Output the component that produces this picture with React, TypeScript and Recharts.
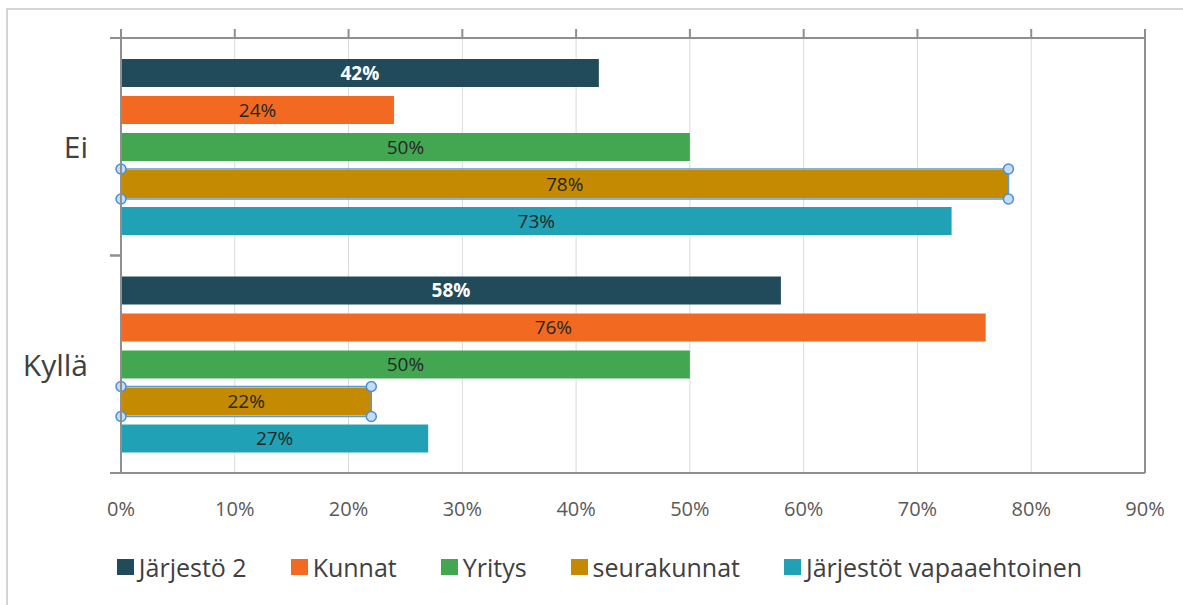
import React from "react";
import {
  BarChart,
  Bar,
  XAxis,
  YAxis,
  CartesianGrid,
  Legend,
  LabelList,
  ReferenceLine,
} from "recharts";

const categories = ["Ei", "Kyllä"];
const jarjesto2 = [42, 58];
const kunnat = [24, 76];
const yritys = [50, 50];
const seurakunnat = [78, 22];
const jarjestotVapaaehtoinen = [73, 27];
const xTicks = [0, 10, 20, 30, 40, 50, 60, 70, 80, 90];

const seriesNames = ["Järjestö 2", "Kunnat", "Yritys", "seurakunnat", "Järjestöt vapaaehtoinen"];
const seriesKeys = ["j2", "kunnat", "yritys", "seura", "jv"];
const seriesColors = ["#214b5a", "#f26a22", "#43a752", "#c48a02", "#21a1b5"];
const seriesValues = [jarjesto2, kunnat, yritys, seurakunnat, jarjestotVapaaehtoinen];

const data = categories.map((cat, i) => {
  const row: Record<string, any> = { cat };
  seriesKeys.forEach((k, s) => {
    row[k] = seriesValues[s][i];
  });
  return row;
});

const W = 1183;
const H = 605;
const M_TOP = 37;
const TOP_AXIS_H = 1;
const M_BOTTOM = 92;
const X_AXIS_H = 40;
const PLOT_TOP = M_TOP + TOP_AXIS_H;
const PLOT_H = H - PLOT_TOP - M_BOTTOM - X_AXIS_H;
const BAND_HALF = PLOT_H / categories.length / 2;
const FONT = "'Open Sans', 'Noto Sans', sans-serif";
const AXIS_COLOR = "#8f8f8f";

const YTick = (props: any) => {
  const { x, y, payload } = props;
  return (
    <g>
      <text
        x={x}
        y={y}
        textAnchor="end"
        dominantBaseline="central"
        fontSize={30}
        fontFamily={FONT}
        fill="#404040"
      >
        {payload.value}
      </text>
      <line x1={x + 22} x2={x + 33} y1={y - BAND_HALF} y2={y - BAND_HALF} stroke={AXIS_COLOR} strokeWidth={2} />
      <line x1={x + 22} x2={x + 33} y1={y + BAND_HALF} y2={y + BAND_HALF} stroke={AXIS_COLOR} strokeWidth={2} />
    </g>
  );
};

const XTick = (props: any) => {
  const { x, y, payload } = props;
  return (
    <g>
      <line x1={x} x2={x} y1={PLOT_TOP - 9} y2={PLOT_TOP} stroke={AXIS_COLOR} strokeWidth={2} />
      <text
        x={x}
        y={y}
        dy="0.71em"
        textAnchor="middle"
        fontSize={20}
        fontFamily={FONT}
        fill="#595959"
      >
        {`${payload.value}%`}
      </text>
    </g>
  );
};

const SelectedBar = (props: any) => {
  const { x, y, width, height, fill } = props;
  const pts = [
    [x, y - 1],
    [x + width, y - 1],
    [x, y + height + 1],
    [x + width, y + height + 1],
  ];
  return (
    <g>
      <rect x={x} y={y} width={width} height={height} fill={fill} />
      <rect x={x} y={y - 1} width={width} height={height + 2} fill="none" stroke="#5b9bd5" strokeWidth={1.5} />
      {pts.map(([cx, cy], i) => (
        <circle key={i} cx={cx} cy={cy} r={5} fill="#c5dcf3" stroke="#4a90d9" strokeWidth={1.5} />
      ))}
    </g>
  );
};

const LegendContent = () => (
  <div
    style={{
      display: "flex",
      justifyContent: "center",
      alignItems: "center",
      gap: 44,
      paddingLeft: 16,
      fontFamily: FONT,
      fontSize: 25,
      color: "#404040",
      lineHeight: "30px",
    }}
  >
    {seriesNames.map((n, i) => (
      <div key={n} style={{ display: "flex", alignItems: "center" }}>
        <span
          style={{
            display: "inline-block",
            width: 17,
            height: 16,
            background: seriesColors[i],
            marginRight: 5,
          }}
        />
        <span>{n}</span>
      </div>
    ))}
  </div>
);

export default function App() {
  return (
    <div style={{ position: "absolute", left: 0, top: 0, width: W, height: H, background: "#fff", overflow: "hidden" }}>
      <div
        style={{
          position: "absolute",
          left: 6,
          top: 8,
          width: W,
          height: H,
          borderLeft: "2px solid #d4d4d4",
          borderTop: "2px solid #d4d4d4",
        }}
      />
      <div style={{ position: "absolute", left: 0, top: 0 }}>
        <BarChart
          width={W}
          height={H}
          data={data}
          layout="vertical"
          margin={{ top: M_TOP, right: 38, left: 0, bottom: M_BOTTOM }}
          barCategoryGap={21}
          barGap={9}
        >
          <CartesianGrid horizontal={false} stroke="#d9d9d9" strokeWidth={1} />
          <XAxis
            type="number"
            domain={[0, 90]}
            ticks={xTicks}
            orientation="bottom"
            height={X_AXIS_H}
            axisLine={{ stroke: AXIS_COLOR, strokeWidth: 2 }}
            tickLine={false}
            tickSize={0}
            tickMargin={29}
            tick={<XTick />}
            interval={0}
          />
          <XAxis
            xAxisId="top"
            type="number"
            domain={[0, 90]}
            ticks={xTicks}
            orientation="top"
            height={TOP_AXIS_H}
            axisLine={{ stroke: AXIS_COLOR, strokeWidth: 2 }}
            tickLine={false}
            tick={false}
          />
          <YAxis
            type="category"
            dataKey="cat"
            width={121}
            axisLine={{ stroke: AXIS_COLOR, strokeWidth: 2 }}
            tickLine={false}
            tickSize={0}
            tickMargin={33}
            tick={<YTick />}
          />
          <ReferenceLine x={90} stroke={AXIS_COLOR} strokeWidth={2} />
          <Legend
            verticalAlign="middle"
            layout="horizontal"
            content={<LegendContent />}
            wrapperStyle={{ top: 552, left: 0, width: W }}
          />
          {seriesKeys.map((k, i) => (
            <Bar
              key={k}
              dataKey={k}
              name={seriesNames[i]}
              fill={seriesColors[i]}
              isAnimationActive={false}
              shape={k === "seura" ? <SelectedBar /> : undefined}
            >
              <LabelList
                dataKey={k}
                position="center"
                formatter={(v: any) => `${v}%`}
                style={{
                  fontSize: 19,
                  fontFamily: FONT,
                  fill: i === 0 ? "#ffffff" : "#262626",
                  fontWeight: i === 0 ? 700 : 400,
                }}
              />
            </Bar>
          ))}
        </BarChart>
      </div>
    </div>
  );
}
